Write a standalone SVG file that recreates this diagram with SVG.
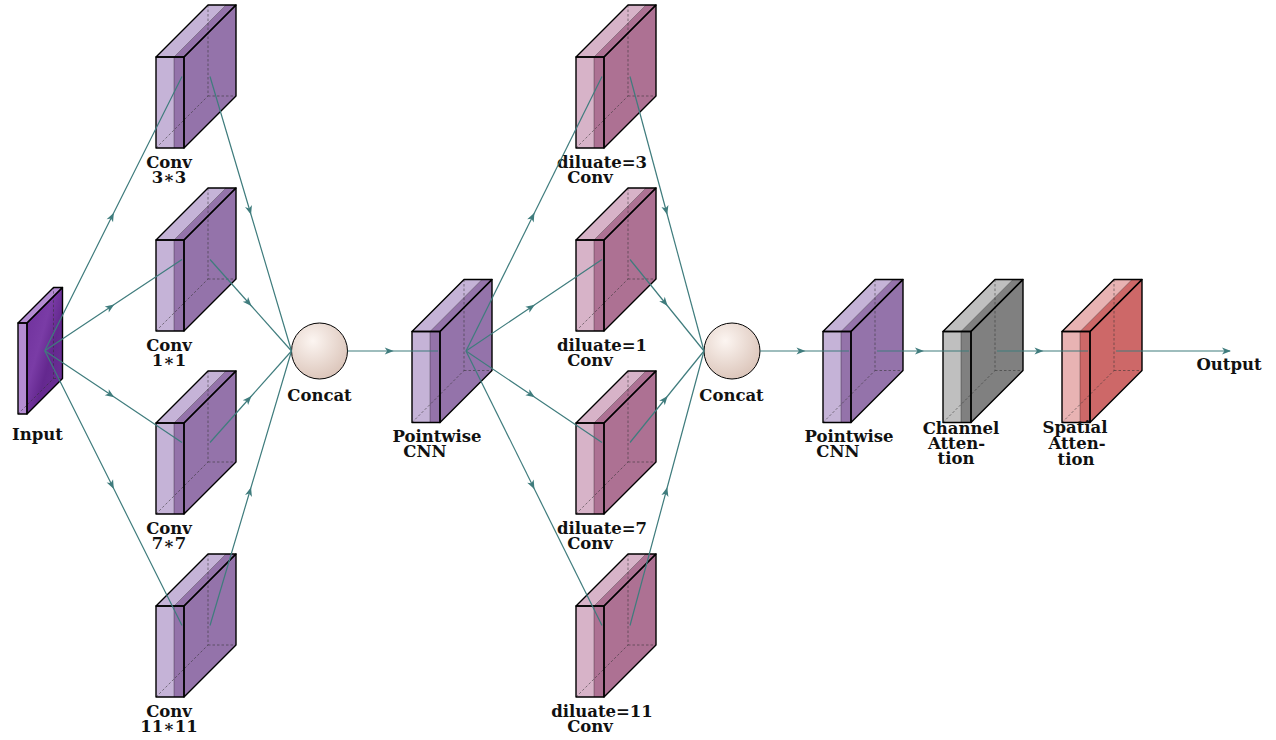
<svg xmlns="http://www.w3.org/2000/svg" xmlns:xlink="http://www.w3.org/1999/xlink" width="1276" height="740" viewBox="0 0 1276 740">
<style>
  text { font-family: "DejaVu Serif", "Liberation Serif", serif; font-weight: bold; font-size: 16.5px; fill: #111; text-anchor: middle; }
  .edge { fill: none; stroke: #3f7c7d; stroke-width: 1.2; marker-mid: url(#ah); }
  .ol { fill: none; stroke: #000; stroke-width: 1.4; stroke-linejoin: round; }
  .dash { fill: none; stroke: #333; stroke-opacity: 0.7; stroke-width: 0.8; stroke-dasharray: 2.5 2; }
  .split { fill: none; stroke: #000; stroke-opacity: 0.3; stroke-width: 1; }
</style>
<defs>
  <marker id="ah" viewBox="-10 -5 12 10" refX="0" refY="0" markerWidth="12" markerHeight="10" orient="auto" markerUnits="userSpaceOnUse">
    <path d="M1,0 L-8,-3.6 L-5.6,0 L-8,3.6 Z" fill="#3f7c7d"/>
  </marker>
  <radialGradient id="ball" cx="0.38" cy="0.32" r="0.7">
    <stop offset="0" stop-color="#fcf5f1"/>
    <stop offset="1" stop-color="#dcc6bb"/>
  </radialGradient>
  <linearGradient id="tex" x1="0" y1="0" x2="1" y2="1">
    <stop offset="0" stop-color="#6d2f9a"/>
    <stop offset="0.4" stop-color="#7a3ca6"/>
    <stop offset="0.6" stop-color="#64288f"/>
    <stop offset="1" stop-color="#6f3299"/>
  </linearGradient>
  <g id="blk">
    <rect x="0" y="0" width="18" height="91" fill="currentColor"/>
    <polygon points="0,0 52,-52 70,-52 18,0" fill="currentColor"/>
    <rect x="18" y="0" width="10" height="91"/>
    <polygon points="18,0 70,-52 80,-52 28,0"/>
    <polygon points="28,0 80,-52 80,39 28,91"/>
    <path class="dash" d="M0,91 L52,39 L52,-52 M52,39 L80,39"/>
    <path class="split" d="M18,91 V0 L70,-52"/>
    <rect class="ol" x="0" y="0" width="28" height="91"/>
    <polygon class="ol" points="0,0 52,-52 80,-52 28,0"/>
    <polygon class="ol" points="28,0 80,-52 80,39 28,91"/>
  </g>
</defs>

<g id="input">
  <rect x="18" y="323" width="9" height="91" fill="#b48cd2"/>
  <polygon points="18,323 53.5,287.5 62.5,287.5 27,323" fill="#b48cd2"/>
  <polygon points="27,323 62.5,287.5 62.5,378.5 27,414" fill="url(#tex)"/>
  <path class="dash" d="M18,414 L53.5,378.5 L53.5,287.5 M53.5,378.5 L62.5,378.5"/>
  <rect class="ol" x="18" y="323" width="9" height="91"/>
  <polygon class="ol" points="18,323 53.5,287.5 62.5,287.5 27,323"/>
  <polygon class="ol" points="27,323 62.5,287.5 62.5,378.5 27,414"/>
  <text x="37.5" y="440">Input</text>
</g>

<g id="conv3">
  <use xlink:href="#blk" transform="translate(156,57)" color="#c5b3d7" fill="#9473aa"/>
  <text x="169" y="168">Conv</text><text x="169" y="183">3∗3</text>
</g>
<g id="conv1">
  <use xlink:href="#blk" transform="translate(156,240)" color="#c5b3d7" fill="#9473aa"/>
  <text x="169" y="351">Conv</text><text x="169" y="366">1∗1</text>
</g>
<g id="conv7">
  <use xlink:href="#blk" transform="translate(156,423)" color="#c5b3d7" fill="#9473aa"/>
  <text x="169" y="534">Conv</text><text x="169" y="549">7∗7</text>
</g>
<g id="conv11">
  <use xlink:href="#blk" transform="translate(156,606)" color="#c5b3d7" fill="#9473aa"/>
  <text x="169" y="717">Conv</text><text x="169" y="732">11∗11</text>
</g>

<g id="concat1">
  <circle cx="319.5" cy="351" r="28" fill="url(#ball)" stroke="#000" stroke-width="1"/>
  <text x="319.5" y="401">Concat</text>
</g>

<g id="pw1">
  <use xlink:href="#blk" transform="translate(412,331.5)" color="#c5b3d7" fill="#9473aa"/>
  <text x="437" y="442">Pointwise</text><text x="425" y="457">CNN</text>
</g>

<g id="dil3">
  <use xlink:href="#blk" transform="translate(576,57)" color="#d7b3c8" fill="#ad7193"/>
  <text x="602" y="168">diluate=3</text><text x="590" y="183">Conv</text>
</g>
<g id="dil1">
  <use xlink:href="#blk" transform="translate(576,240)" color="#d7b3c8" fill="#ad7193"/>
  <text x="602" y="351">diluate=1</text><text x="590" y="366">Conv</text>
</g>
<g id="dil7">
  <use xlink:href="#blk" transform="translate(576,423)" color="#d7b3c8" fill="#ad7193"/>
  <text x="602" y="534">diluate=7</text><text x="590" y="549">Conv</text>
</g>
<g id="dil11">
  <use xlink:href="#blk" transform="translate(576,606)" color="#d7b3c8" fill="#ad7193"/>
  <text x="602" y="717">diluate=11</text><text x="590" y="732">Conv</text>
</g>

<g id="concat2">
  <circle cx="732" cy="351" r="28" fill="url(#ball)" stroke="#000" stroke-width="1"/>
  <text x="731.5" y="401">Concat</text>
</g>

<g id="pw2">
  <use xlink:href="#blk" transform="translate(823,331.5)" color="#c5b3d7" fill="#9473aa"/>
  <text x="849" y="442">Pointwise</text><text x="838" y="457">CNN</text>
</g>

<g id="channel">
  <use xlink:href="#blk" transform="translate(943,331.5)" color="#bfbfbf" fill="#808080"/>
  <text x="961" y="434">Channel</text><text x="956.5" y="449">Atten-</text><text x="956" y="464">tion</text>
</g>

<g id="spatial">
  <use xlink:href="#blk" transform="translate(1062,331.5)" color="#e8b3b3" fill="#cd6868"/>
  <text x="1075" y="433">Spatial</text><text x="1077" y="449">Atten-</text><text x="1076" y="465">tion</text>
</g>

<g id="output">
  <text x="1229" y="370">Output</text>
</g>

<g id="connectors">
  <path class="edge" d="M44.75,350.75 L113.4,213.6 L182,76.5"/>
  <path class="edge" d="M44.75,350.75 L113.4,305.1 L182,259.5"/>
  <path class="edge" d="M44.75,350.75 L113.4,396.6 L182,442.5"/>
  <path class="edge" d="M44.75,350.75 L113.4,488.1 L182,625.5"/>
  <path class="edge" d="M210,76.5 L250.75,213.75 L291.5,351"/>
  <path class="edge" d="M210,259.5 L250.75,305.25 L291.5,351"/>
  <path class="edge" d="M210,442.5 L250.75,396.75 L291.5,351"/>
  <path class="edge" d="M210,625.5 L250.75,488.25 L291.5,351"/>
  <path class="edge" d="M347.5,351 L392.75,351 L438,351"/>
  <path class="edge" d="M466,351 L534,213.75 L602,76.5"/>
  <path class="edge" d="M466,351 L534,305.25 L602,259.5"/>
  <path class="edge" d="M466,351 L534,396.75 L602,442.5"/>
  <path class="edge" d="M466,351 L534,488.25 L602,625.5"/>
  <path class="edge" d="M630,76.5 L667,213.75 L704,351"/>
  <path class="edge" d="M630,259.5 L667,305.25 L704,351"/>
  <path class="edge" d="M630,442.5 L667,396.75 L704,351"/>
  <path class="edge" d="M630,625.5 L667,488.25 L704,351"/>
  <path class="edge" d="M760,351 L804.5,351 L849,351"/>
  <path class="edge" d="M877,351 L923,351 L969,351"/>
  <path class="edge" d="M997,351 L1042.5,351 L1088,351"/>
  <path class="edge" style="marker-mid:none; marker-end:url(#ah)" d="M1116,351 L1230,351"/>
</g>
</svg>
